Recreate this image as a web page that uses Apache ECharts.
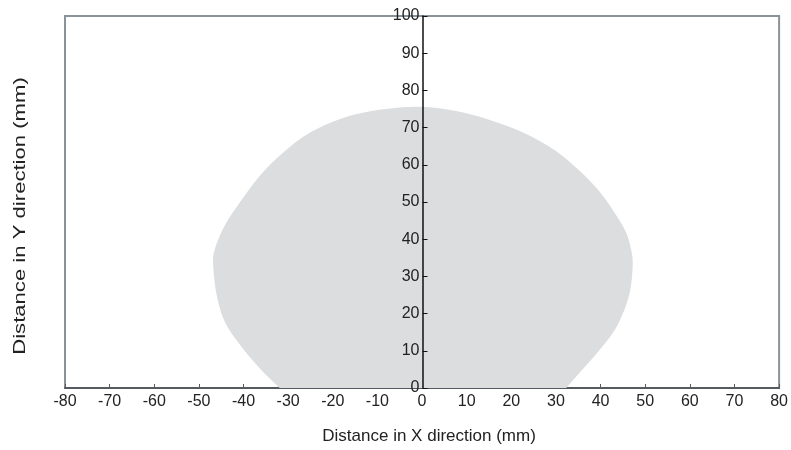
<!DOCTYPE html>
<html>
<head>
<meta charset="utf-8">
<script src="https://cdn.jsdelivr.net/npm/echarts@6/dist/echarts.min.js"></script>
<style>html,body{margin:0;padding:0;background:#fff}#c{width:791px;height:450px}</style>
</head>
<body>
<div id="c"></div>
<script>
var xTicks = [-80,-70,-60,-50,-40,-30,-20,-10,0,10,20,30,40,50,60,70,80];
var yTicks = [0,10,20,30,40,50,60,70,80,90,100];
// outline of the detection area (x mm, y mm), clockwise from bottom-left
var outlineX = [-31.9, -36.4, -40.8, -44.2, -46.0, -46.8, -46.4, -44.2, -40.8, -36.4, -31.1, -25.2, -17.7, -8.8, 0, 9.5, 20.0, 28.2, 34.1, 39.3, 43.1, 45.7, 46.8, 47.2, 46.4, 43.8, 40.1, 35.6, 32.3];
var outlineY = [0, 5.3, 11.6, 17.8, 24.9, 33.0, 37.4, 43.7, 49.9, 57.0, 63.3, 68.6, 72.6, 74.9, 75.6, 74.0, 70.0, 65.1, 59.7, 53.5, 47.2, 41.9, 37.4, 33.0, 24.9, 16.9, 10.7, 4.5, 0];

function splinePath(p) {
  var d = 'M' + p[0][0] + ' ' + p[0][1];
  for (var i = 0; i < p.length - 1; i++) {
    var p0 = p[i - 1] || p[i], p1 = p[i], p2 = p[i + 1], p3 = p[i + 2] || p[i + 1];
    var c1x = p1[0] + (p2[0] - p0[0]) / 6, c1y = p1[1] + (p2[1] - p0[1]) / 6;
    var c2x = p2[0] - (p3[0] - p1[0]) / 6, c2y = p2[1] - (p3[1] - p1[1]) / 6;
    d += 'C' + c1x + ' ' + c1y + ' ' + c2x + ' ' + c2y + ' ' + p2[0] + ' ' + p2[1];
  }
  return d + 'Z';
}

var chart = echarts.init(document.getElementById('c'));
var font = 'Liberation Sans, Arial, sans-serif';
chart.setOption({
  animation: false,
  grid: {left: 65, right: 11, top: 16, bottom: 60, show: true, borderColor: '#8b939a', borderWidth: 2, backgroundColor: 'transparent'},
  xAxis: {
    type: 'value', min: -80, max: 80, interval: 10,
    name: 'Distance in X direction (mm)', nameLocation: 'middle', nameGap: 40,
    nameTextStyle: {fontSize: 17, color: '#222', fontFamily: font, padding: [0, 0, 0, 14]},
    axisLine: {onZero: false, lineStyle: {color: '#555b60', width: 2}},
    axisTick: {inside: true, length: 4, lineStyle: {color: '#555b60'}},
    axisLabel: {fontSize: 16, color: '#222', margin: 6, fontFamily: font},
    splitLine: {show: false}
  },
  yAxis: {
    type: 'value', min: 0, max: 100, interval: 10, z: 10,
    position: 'left', offset: -357.5,
    axisLine: {onZero: false, lineStyle: {color: '#111', width: 1.5}},
    axisTick: {inside: true, length: 5, lineStyle: {color: '#111'}},
    axisLabel: {fontSize: 16, color: '#222', margin: 3, fontFamily: font},
    splitLine: {show: false}
  },
  graphic: [{
    type: 'text', x: 20, y: 216, rotation: Math.PI / 2, scaleX: 1.3,
    style: {text: 'Distance in Y direction (mm)', fontSize: 17, fill: '#222', fontFamily: font, align: 'center', verticalAlign: 'middle'}
  }],
  series: [{
    type: 'custom', clip: true, z: 1,
    data: [[0, 0]],
    renderItem: function (params, api) {
      var pts = outlineX.map(function (x, i) { return api.coord([x, outlineY[i]]); });
      return {type: 'path', shape: {pathData: splinePath(pts)}, style: {fill: '#dcdddf', stroke: null}};
    }
  }]
});
</script>
</body>
</html>
